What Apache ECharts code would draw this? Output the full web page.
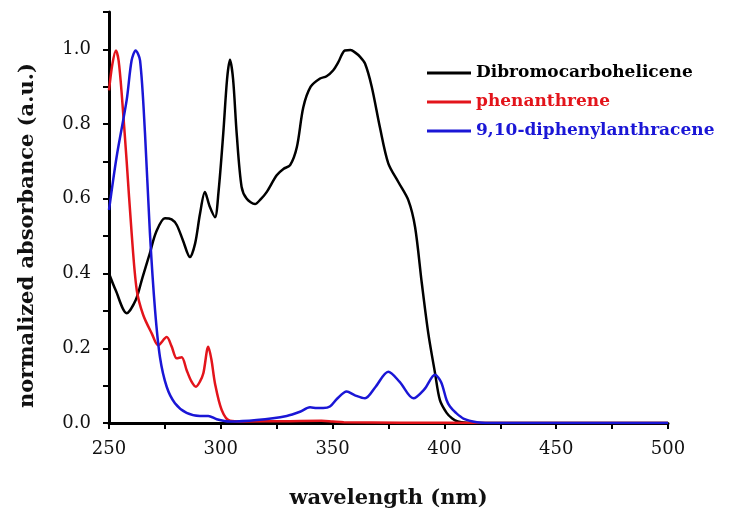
<!DOCTYPE html>
<html><head><meta charset="utf-8">
<script src="https://cdn.jsdelivr.net/npm/echarts@6/dist/echarts.min.js"></script>
<style>html,body{margin:0;padding:0;background:#fff}#c{width:730px;height:516px}</style>
</head><body><div id="c"></div>
<script>
// Dibromocarbohelicene
const blackX = [250,253,257.9,262,265,268.3,271,275,278,280.3,283,286.2,288.5,290.7,292.9,295,297.4,299,301.1,302.8,304.1,305.5,307.1,309.3,311.6,315.3,318,320.5,325,328,331,334,336.9,340.2,344.4,347.3,350.3,352.5,355.5,358,360,362.3,364.5,367.5,371.2,374.9,379.4,383.9,386.9,389.9,392.8,395.8,398,401,403.5,406,410,420,450,500];
const blackY = [0.40,0.355,0.294,0.33,0.39,0.455,0.51,0.548,0.545,0.53,0.49,0.444,0.48,0.56,0.618,0.58,0.551,0.62,0.775,0.92,0.972,0.92,0.775,0.632,0.60,0.586,0.60,0.618,0.663,0.68,0.69,0.738,0.845,0.90,0.922,0.928,0.944,0.965,0.997,0.998,0.992,0.98,0.962,0.90,0.79,0.695,0.645,0.596,0.524,0.374,0.24,0.134,0.061,0.027,0.012,0.004,0.001,0,0,0];
// phenanthrene
const redX = [250,251.5,253.1,254.3,255.7,257.9,260.1,262.4,265.3,269.1,272,275.8,278,280.3,282.5,284.7,286.8,288.9,290.6,292.2,294.4,295.8,297.4,300.4,304.1,310,330,345,350,355,380,420,500];
const redY = [0.89,0.96,0.997,0.97,0.88,0.70,0.51,0.356,0.289,0.24,0.208,0.23,0.205,0.173,0.176,0.142,0.112,0.097,0.11,0.133,0.204,0.17,0.106,0.035,0.006,0.004,0.005,0.006,0.004,0.002,0.001,0,0];
// 9,10-diphenylanthracene
const blueX = [250,253.4,257.9,260.1,261.9,263.9,266.1,268.3,270.6,272.8,275.8,279.5,284.7,290.7,294.4,298.2,304.1,316,329.5,335.4,339.9,343,345.8,348.8,352,356.3,360,364.5,369,374.9,380,386.1,391,395.8,398.5,401,402.5,405,408.5,414.5,420,450,500];
const blueY = [0.57,0.712,0.864,0.97,0.997,0.97,0.775,0.508,0.302,0.176,0.097,0.053,0.027,0.019,0.019,0.01,0.004,0.008,0.019,0.03,0.042,0.04,0.04,0.044,0.065,0.084,0.074,0.066,0.095,0.137,0.11,0.066,0.09,0.129,0.11,0.061,0.044,0.028,0.012,0.002,0,0,0];

const xTicks = [250,300,350,400,450,500];
const yTicks = [0.0,0.2,0.4,0.6,0.8,1.0];

const names = ['Dibromocarbohelicene','phenanthrene','9,10-diphenylanthracene'];
const colors = ['#000000','#e3141b','#1a16d6'];

const zip = (xs, ys) => xs.map((x,i)=>[x, ys[i]]);
const serif = 'DejaVu Serif';

const chart = echarts.init(document.getElementById('c'), null, {renderer:'canvas'});
chart.setOption({
  animation:false,
  backgroundColor:'#fff',
  grid:{left:109, right:62, top:12, bottom:93},
  legend:{
    orient:'vertical', left:422, top:58, itemWidth:44, itemHeight:3, itemGap:9,
    icon:'rect',
    textStyle:{fontFamily:serif, fontSize:17, fontWeight:'bold', lineHeight:20},
    data: names.map((n,i)=>({name:n, textStyle:{color:colors[i]}}))
  },
  xAxis:{
    type:'value', min:250, max:500, interval:25,
    name:'wavelength (nm)', nameLocation:'middle', nameGap:65,
    nameTextStyle:{fontFamily:serif, fontSize:21, fontWeight:'bold', color:'#111'},
    axisLine:{lineStyle:{color:'#000', width:3}},
    axisTick:{length:6, lineStyle:{color:'#000', width:2}},
    axisLabel:{margin:17, fontFamily:serif, fontSize:18, color:'#111',
      formatter:v=> xTicks.includes(v) ? String(v) : ''},
    splitLine:{show:false}
  },
  yAxis:{
    type:'value', min:0, max:1.1, interval:0.1,
    name:'normalized absorbance (a.u.)', nameLocation:'middle', nameGap:71,
    nameTextStyle:{fontFamily:serif, fontSize:21, fontWeight:'bold', color:'#111', padding:[0,36,0,0]},
    axisLine:{show:true, lineStyle:{color:'#000', width:3}},
    axisTick:{show:true, length:6, lineStyle:{color:'#000', width:2}},
    axisLabel:{margin:18, fontFamily:serif, fontSize:18, color:'#111',
      formatter:v=> yTicks.some(t=>Math.abs(t-v)<1e-6) ? v.toFixed(1) : ''},
    splitLine:{show:false}
  },
  series:[
    {name:names[0], type:'line', data:zip(blackX,blackY)},
    {name:names[1], type:'line', data:zip(redX,redY)},
    {name:names[2], type:'line', data:zip(blueX,blueY)}
  ].map((s,i)=>Object.assign(s,{showSymbol:false, symbol:'none', smooth:0.3,
      color:colors[i], lineStyle:{color:colors[i], width:2.5}}))
});
</script></body></html>
